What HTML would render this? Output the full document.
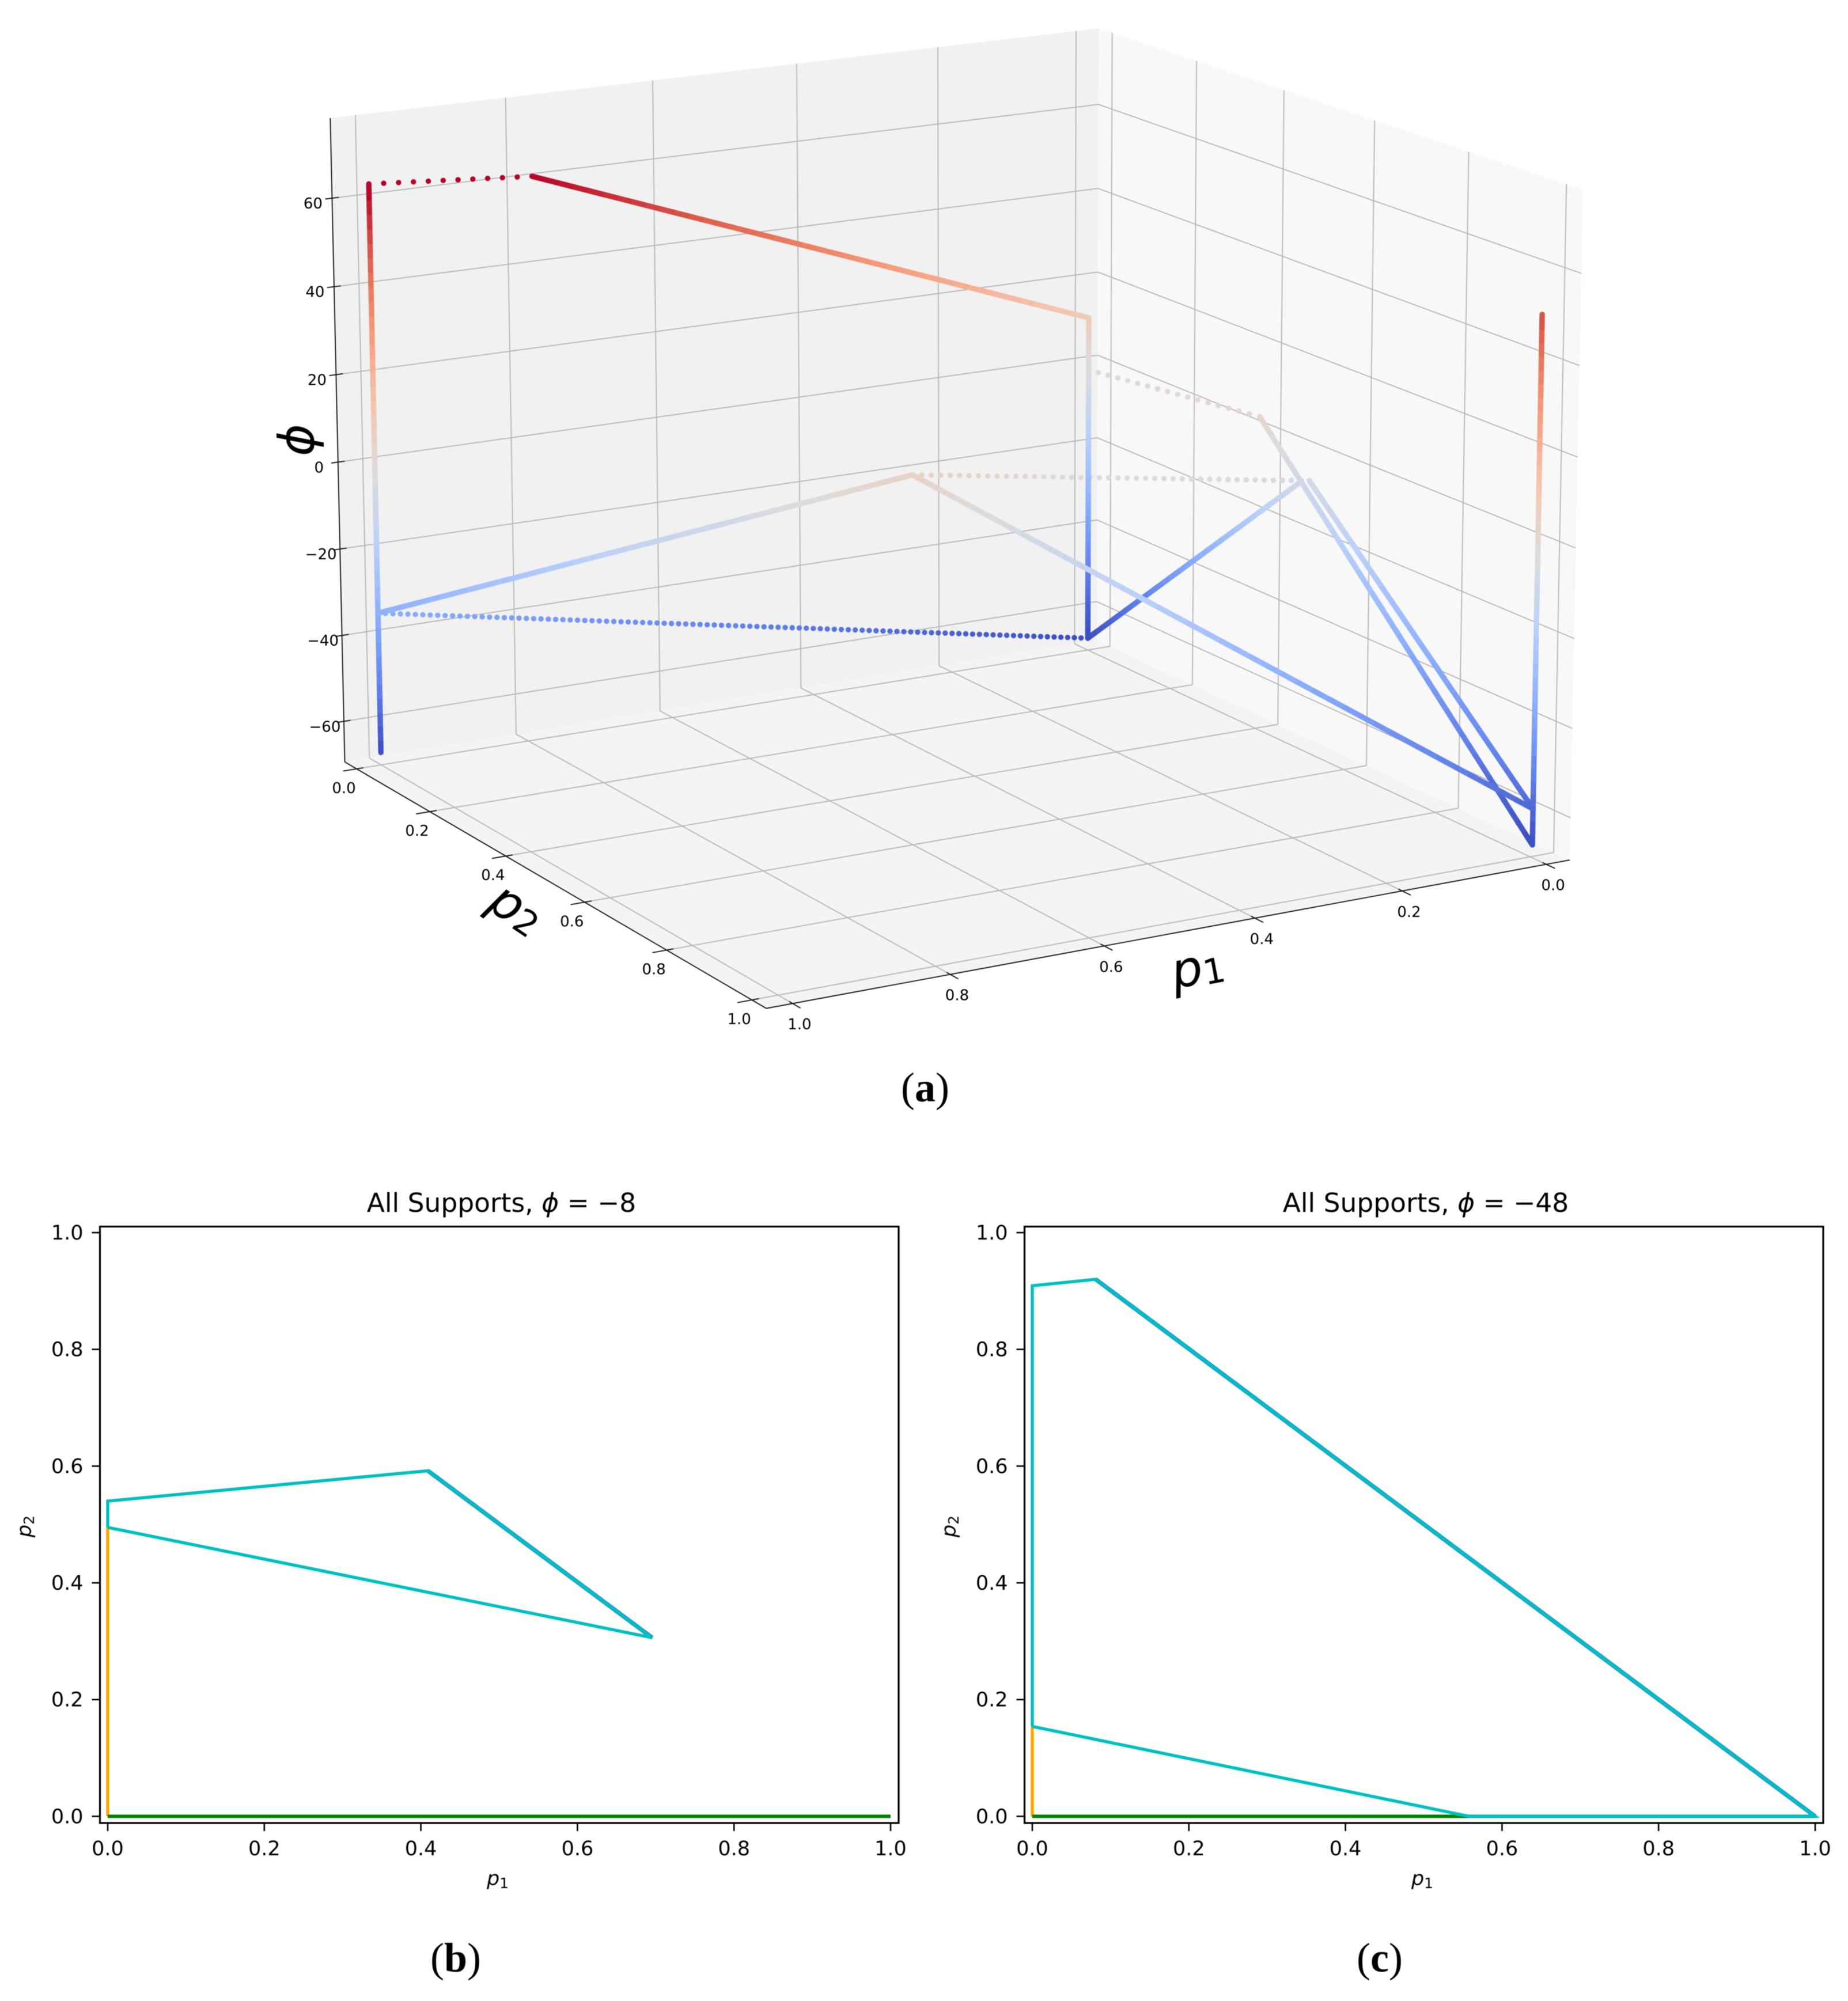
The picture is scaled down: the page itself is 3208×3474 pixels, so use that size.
<!DOCTYPE html>
<html lang="en">
<head>
<meta charset="utf-8">
<title>Support structure vs phi</title>
<style>
html,body{margin:0;padding:0;background:#fff;}
svg{display:block;filter:blur(0.6px);}
text{font-family:"DejaVu Sans","Liberation Sans",sans-serif;fill:#000;}
.cap{font-family:"Liberation Serif","DejaVu Serif",serif;font-size:72px;}
.cap tspan{font-weight:bold;}
</style>
</head>
<body>
<svg id="fig" xmlns="http://www.w3.org/2000/svg" width="3208" height="3474" viewBox="0 0 3208 3474">
  <rect x="0" y="0" width="3208" height="3474" fill="#fff"/>
  <g id="chart3d"></g>
  <text transform="translate(516,764) rotate(-90)" text-anchor="middle" dominant-baseline="central" font-size="85" font-style="italic">ϕ</text>
  <text transform="translate(897,1578) rotate(34)" text-anchor="middle" dominant-baseline="central" font-size="85" font-style="italic">p<tspan font-size="60" font-style="normal" dy="12">2</tspan></text>
  <text transform="translate(2079,1680) rotate(-10.5)" text-anchor="middle" dominant-baseline="central" font-size="85" font-style="italic">p<tspan font-size="60" font-style="normal" dy="12">1</tspan></text>
  <text class="cap" x="1606" y="1912" text-anchor="middle">(<tspan>a</tspan>)</text>

  <g id="panelB"></g>
  <text x="870.5" y="2104" text-anchor="middle" font-size="45.5">All Supports, <tspan font-style="italic">ϕ</tspan> = −8</text>
  <text x="864" y="3273" text-anchor="middle" font-size="35" font-style="italic">p<tspan font-size="25" font-style="normal" dy="5">1</tspan></text>
  <text transform="translate(54,2650) rotate(-90)" text-anchor="middle" font-size="35" font-style="italic">p<tspan font-size="25" font-style="normal" dy="5">2</tspan></text>
  <text class="cap" x="791" y="3423" text-anchor="middle">(<tspan>b</tspan>)</text>

  <g id="panelC"></g>
  <text x="2475" y="2104" text-anchor="middle" font-size="45.5">All Supports, <tspan font-style="italic">ϕ</tspan> = −48</text>
  <text x="2469" y="3273" text-anchor="middle" font-size="35" font-style="italic">p<tspan font-size="25" font-style="normal" dy="5">1</tspan></text>
  <text transform="translate(1659,2650) rotate(-90)" text-anchor="middle" font-size="35" font-style="italic">p<tspan font-size="25" font-style="normal" dy="5">2</tspan></text>
  <text class="cap" x="2395" y="3423" text-anchor="middle">(<tspan>c</tspan>)</text>
</svg>
<script>
/* ---------- 3D chart data ---------- */
const p1Ticks = [0, 0.2, 0.4, 0.6, 0.8, 1.0];
const p1TickLabels = ['0.0', '0.2', '0.4', '0.6', '0.8', '1.0'];
const p2Ticks = [0, 0.2, 0.4, 0.6, 0.8, 1.0];
const p2TickLabels = ['0.0', '0.2', '0.4', '0.6', '0.8', '1.0'];
const phiTicks = [-60, -40, -20, 0, 20, 40, 60];
const phiTickLabels = ['−60', '−40', '−20', '0', '20', '40', '60'];

const solidAP1 = [1, 1];
const solidAP2 = [0, 0];
const solidAPhi = [-66.6, 63.7];

const solidBP1 = [0.813, 0, 0, 0];
const solidBP2 = [0.06, 0, 0, 0.5];
const solidBPhi = [63.7, 11, -66.6, -7.1];

const solidCP1 = [1, 0.527, 0, 0];
const solidCP2 = [0, 0.473, 1.004, 0.517];
const solidCPhi = [-34.2, 6.1, -58.5, -6.3];

const solidDP1 = [0, 0, 0];
const solidDP2 = [0.404, 1.004, 1.004];
const solidDPhi = [3.8, -66.6, 50.7];

const dottedAP1 = [1, 0.813];
const dottedAP2 = [0, 0.06];
const dottedAPhi = [63.7, 63.7];

const dottedBP1 = [1, 0];
const dottedBP2 = [0, 0];
const dottedBPhi = [-34.2, -66.6];

const dottedCP1 = [0.527, 0];
const dottedCP2 = [0.473, 0.517];
const dottedCPhi = [6.1, -6.3];

const dottedDP1 = [0, 0];
const dottedDP2 = [0, 0.404];
const dottedDPhi = [-1.5, 3.8];

const dottedSampleCounts = [11, 100, 43, 17];

/* ---------- 2D panel data ---------- */
const panelTicks = [0, 0.2, 0.4, 0.6, 0.8, 1.0];
const panelTickLabels = ['0.0', '0.2', '0.4', '0.6', '0.8', '1.0'];

const panelBOrangeP1 = [0, 0];
const panelBOrangeP2 = [0, 0.495];
const panelBGreenP1 = [0, 1];
const panelBGreenP2 = [0, 0];
const panelBBlueP1 = [0.409, 0.6955];
const panelBBlueP2 = [0.592, 0.306];
const panelBCyanP1 = [0, 0, 0.409, 0.6955, 0];
const panelBCyanP2 = [0.495, 0.54, 0.592, 0.306, 0.495];

const panelCOrangeP1 = [0, 0];
const panelCOrangeP2 = [0, 0.154];
const panelCGreenP1 = [0, 1];
const panelCGreenP2 = [0, 0];
const panelCBlueP1 = [0.081, 1];
const panelCBlueP2 = [0.92, 0];
const panelCCyanP1 = [0, 0, 0.081, 1, 0.558, 0];
const panelCCyanP2 = [0.154, 0.909, 0.92, 0, 0, 0.154];

/* ---------- helpers ---------- */
const NS = 'http://www.w3.org/2000/svg';
function mk(parent, tag, attrs, txt) {
  const el = document.createElementNS(NS, tag);
  for (const k in attrs) el.setAttribute(k, attrs[k]);
  if (txt !== undefined) el.textContent = txt;
  parent.appendChild(el);
  return el;
}

/* ---------- 3D axis functions ---------- */
const p1Lim = [-0.033, 1.033];
const p2Lim = [-0.033, 1.033];
const phiLim = [-69.5, 78];

/* camera calibration: box corners (unit cube -> screen) */
const boxCalibration = [
  [1, 0, 0, 598, 1322.6],
  [1, 1, 0, 1330, 1751],
  [0, 1, 0, 2724, 1492.5],
  [0, 0, 0, 1905, 1112],
  [1, 0, 1, 574, 205],
  [0, 0, 1, 1905.5, 49],
  [0, 1, 1, 2749, 330]
];

function solveCamera(c) {
  const A = [], b = [];
  c.forEach(r => {
    const u = r[0], v = r[1], w = r[2], X = r[3] / 1000, Y = r[4] / 1000;
    A.push([u, v, w, 1, 0, 0, 0, 0, -X * u, -X * v, -X * w]); b.push(X);
    A.push([0, 0, 0, 0, u, v, w, 1, -Y * u, -Y * v, -Y * w]); b.push(Y);
  });
  const n = 11, N = [];
  for (let i = 0; i < n; i++) {
    N.push(new Array(n + 1).fill(0));
    for (let j = 0; j < n; j++) for (let k = 0; k < A.length; k++) N[i][j] += A[k][i] * A[k][j];
    for (let k = 0; k < A.length; k++) N[i][n] += A[k][i] * b[k];
  }
  for (let i = 0; i < n; i++) {
    let p = i;
    for (let r = i + 1; r < n; r++) if (Math.abs(N[r][i]) > Math.abs(N[p][i])) p = r;
    const t = N[i]; N[i] = N[p]; N[p] = t;
    for (let r = 0; r < n; r++) {
      if (r === i) continue;
      const f = N[r][i] / N[i][i];
      for (let c2 = i; c2 <= n; c2++) N[r][c2] -= f * N[i][c2];
    }
  }
  return N.map((row, i) => row[n] / row[i]);
}
const cam = solveCamera(boxCalibration);

function project(p1, p2, phi) {
  const u = (p1 - p1Lim[0]) / (p1Lim[1] - p1Lim[0]);
  const v = (p2 - p2Lim[0]) / (p2Lim[1] - p2Lim[0]);
  const w = (phi - phiLim[0]) / (phiLim[1] - phiLim[0]);
  const d = cam[8] * u + cam[9] * v + cam[10] * w + 1;
  return [
    1000 * (cam[0] * u + cam[1] * v + cam[2] * w + cam[3]) / d,
    1000 * (cam[4] * u + cam[5] * v + cam[6] * w + cam[7]) / d
  ];
}

/* coolwarm colormap */
const coolwarmStops = [
  [59, 76, 192], [98, 130, 234], [141, 176, 254], [187, 209, 248],
  [221, 220, 220], [245, 196, 172], [244, 154, 123], [222, 97, 77], [180, 4, 38]
];
const allPhi = solidAPhi.concat(solidBPhi, solidCPhi, solidDPhi);
const phiMin = Math.min.apply(null, allPhi);
const phiMax = Math.max.apply(null, allPhi);
function phiColor(phi) {
  const t = Math.max(0, Math.min(1, (phi - phiMin) / (phiMax - phiMin))) * (coolwarmStops.length - 1);
  const i = Math.min(coolwarmStops.length - 2, Math.floor(t)), f = t - i;
  const a = coolwarmStops[i], b = coolwarmStops[i + 1];
  return 'rgb(' + [0, 1, 2].map(k => Math.round(a[k] + (b[k] - a[k]) * f)).join(',') + ')';
}

const g3 = document.getElementById('chart3d');

function pane(name, fill, corners) {
  const pts = corners.map(c => project(c[0], c[1], c[2]).join(',')).join(' ');
  const el = mk(g3, 'polygon', { points: pts, fill: fill });
  
  
}
const a0 = p1Lim[0], a1 = p1Lim[1], b0 = p2Lim[0], b1 = p2Lim[1], c0 = phiLim[0], c1 = phiLim[1];
pane('left-wall-pane', '#f1f1f1', [[a1, b0, c0], [a0, b0, c0], [a0, b0, c1], [a1, b0, c1]]);
pane('right-wall-pane', '#f8f8f8', [[a0, b0, c0], [a0, b1, c0], [a0, b1, c1], [a0, b0, c1]]);
pane('floor-pane', '#f4f4f4', [[a1, b0, c0], [a1, b1, c0], [a0, b1, c0], [a0, b0, c0]]);

function line3(name, A, B, stroke, width) {
  const p = project(A[0], A[1], A[2]), q = project(B[0], B[1], B[2]);
  const el = mk(g3, 'line', { x1: p[0], y1: p[1], x2: q[0], y2: q[1], stroke: stroke, 'stroke-width': width });
  
  
}
const gridColor = '#b6b6b6';
p1Ticks.forEach(t => {
  line3('gridline-p1-floor', [t, b0, c0], [t, b1, c0], gridColor, 1.8);
  line3('gridline-p1-wall', [t, b0, c0], [t, b0, c1], gridColor, 1.8);
});
p2Ticks.forEach(t => {
  line3('gridline-p2-floor', [a0, t, c0], [a1, t, c0], gridColor, 1.8);
  line3('gridline-p2-wall', [a0, t, c0], [a0, t, c1], gridColor, 1.8);
});
phiTicks.forEach(t => {
  line3('gridline-phi-left-wall', [a0, b0, t], [a1, b0, t], gridColor, 1.8);
  line3('gridline-phi-right-wall', [a0, b0, t], [a0, b1, t], gridColor, 1.8);
});

line3('p2-axis-line', [a1, b0, c0], [a1, b1, c0], '#111', 1.8);
line3('p1-axis-line', [a0, b1, c0], [a1, b1, c0], '#111', 1.8);
line3('phi-axis-line', [a1, b0, c0], [a1, b0, c1], '#111', 1.8);

function label3(name, x, y, text) {
  const el = mk(g3, 'text', { x: x, y: y, 'text-anchor': 'middle', 'font-size': 26 }, text);
  
  
}
p1Ticks.forEach((t, i) => {
  line3('p1-tick', [t, b1 - 0.008, c0], [t, b1 + 0.018, c0], '#111', 1.8);
  const s = project(t, b1, c0);
  label3('p1-tick-label', s[0] + 12, s[1] + 45, p1TickLabels[i]);
});
p2Ticks.forEach((t, i) => {
  line3('p2-tick', [a1 - 0.009, t, c0], [a1 + 0.018, t, c0], '#111', 1.8);
  const s = project(a1, t, c0);
  label3('p2-tick-label', s[0] - 22, s[1] + 42, p2TickLabels[i]);
});
phiTicks.forEach((t, i) => {
  line3('phi-tick', [a1 - 0.009, b0, t], [a1 + 0.009, b0, t], '#111', 1.8);
  const s = project(a1, b0, t);
  label3('phi-tick-label', s[0] - 33, s[1] + 18, phiTickLabels[i]);
});

/* solid paths: short colour-graded pieces, coloured by phi */
function solidPath(name, P1, P2, PHI) {
  const grp = mk(g3, 'g', {});
  
  
  const pieces = 40;
  for (let i = 0; i + 1 < P1.length; i++) {
    for (let k = 0; k < pieces; k++) {
      const f0 = k / pieces, f1 = (k + 1) / pieces;
      const A = project(P1[i] + (P1[i + 1] - P1[i]) * f0, P2[i] + (P2[i + 1] - P2[i]) * f0, PHI[i] + (PHI[i + 1] - PHI[i]) * f0);
      const B = project(P1[i] + (P1[i + 1] - P1[i]) * f1, P2[i] + (P2[i + 1] - P2[i]) * f1, PHI[i] + (PHI[i + 1] - PHI[i]) * f1);
      const phiMid = PHI[i] + (PHI[i + 1] - PHI[i]) * (f0 + f1) / 2;
      const el = mk(grp, 'line', { x1: A[0], y1: A[1], x2: B[0], y2: B[1], stroke: phiColor(phiMid), 'stroke-width': 9.5, 'stroke-linecap': 'round' });
      
      
    }
  }
}
function dottedPath(name, P1, P2, PHI, count) {
  const grp = mk(g3, 'g', {});
  
  
  for (let k = 0; k <= count; k++) {
    const f = k / count;
    const phi = PHI[0] + (PHI[1] - PHI[0]) * f;
    const s = project(P1[0] + (P1[1] - P1[0]) * f, P2[0] + (P2[1] - P2[0]) * f, phi);
    const el = mk(grp, 'circle', { cx: s[0], cy: s[1], r: 4.7, fill: phiColor(phi) });
    
    
  }
}
dottedPath('dotted-edge-top', dottedAP1, dottedAP2, dottedAPhi, dottedSampleCounts[0]);
dottedPath('dotted-edge-back', dottedBP1, dottedBP2, dottedBPhi, dottedSampleCounts[1]);
dottedPath('dotted-edge-middle', dottedCP1, dottedCP2, dottedCPhi, dottedSampleCounts[2]);
dottedPath('dotted-edge-right', dottedDP1, dottedDP2, dottedDPhi, dottedSampleCounts[3]);
solidPath('solid-edge-left-vertical', solidAP1, solidAP2, solidAPhi);
solidPath('solid-edge-back', solidBP1, solidBP2, solidBPhi);
solidPath('solid-edge-right-vertical', solidDP1, solidDP2, solidDPhi);
solidPath('solid-edge-centre', solidCP1, solidCP2, solidCPhi);

/* ---------- 2D panels ---------- */
function panel(gid, x0, left, right, series) {
  const g = document.getElementById(gid);
  const top = 2129.5, bottom = 3165;
  const xs = v => x0 + 1359 * v;
  const ys = v => 3153.4 - 1013.4 * v;

  function poly(name, P1, P2, color, width) {
    const pts = P1.map((v, i) => xs(v) + ',' + ys(P2[i])).join(' ');
    const el = mk(g, 'polyline', { points: pts, fill: 'none', stroke: color, 'stroke-width': width, 'stroke-linejoin': 'miter' });
    
    
  }
  series.forEach(s => poly(s.name, s.p1, s.p2, s.color, s.width));

  const frame = mk(g, 'rect', { x: left, y: top, width: right - left, height: bottom - top, fill: 'none', stroke: '#000', 'stroke-width': 3.2 });
  
  

  panelTicks.forEach((t, i) => {
    const xt = mk(g, 'line', { x1: xs(t), x2: xs(t), y1: bottom, y2: bottom + 14, stroke: '#000', 'stroke-width': 2.6 });
    
    
    const xl = mk(g, 'text', { x: xs(t), y: 3221, 'text-anchor': 'middle', 'font-size': 35 }, panelTickLabels[i]);
    
    
    const yt = mk(g, 'line', { x1: left, x2: left - 14, y1: ys(t), y2: ys(t), stroke: '#000', 'stroke-width': 2.6 });
    
    
    const yl = mk(g, 'text', { x: left - 29, y: ys(t) + 12, 'text-anchor': 'end', 'font-size': 35 }, panelTickLabels[i]);
    
    
  });
}
panel('panelB', 187, 173.5, 1560, [
  { name: 'orange-support', p1: panelBOrangeP1, p2: panelBOrangeP2, color: '#ffa500', width: 5.5 },
  { name: 'green-support', p1: panelBGreenP1, p2: panelBGreenP2, color: '#008000', width: 6 },
  { name: 'blue-support', p1: panelBBlueP1, p2: panelBBlueP2, color: '#2a7fe0', width: 7.5 },
  { name: 'cyan-support', p1: panelBCyanP1, p2: panelBCyanP2, color: '#00bfbf', width: 5.5 }
]);
panel('panelC', 1792, 1778.5, 3165, [
  { name: 'orange-support', p1: panelCOrangeP1, p2: panelCOrangeP2, color: '#ffa500', width: 5.5 },
  { name: 'green-support', p1: panelCGreenP1, p2: panelCGreenP2, color: '#008000', width: 6 },
  { name: 'blue-support', p1: panelCBlueP1, p2: panelCBlueP2, color: '#2a7fe0', width: 7.5 },
  { name: 'cyan-support', p1: panelCCyanP1, p2: panelCCyanP2, color: '#00bfbf', width: 5.5 }
]);
</script>
</body>
</html>
